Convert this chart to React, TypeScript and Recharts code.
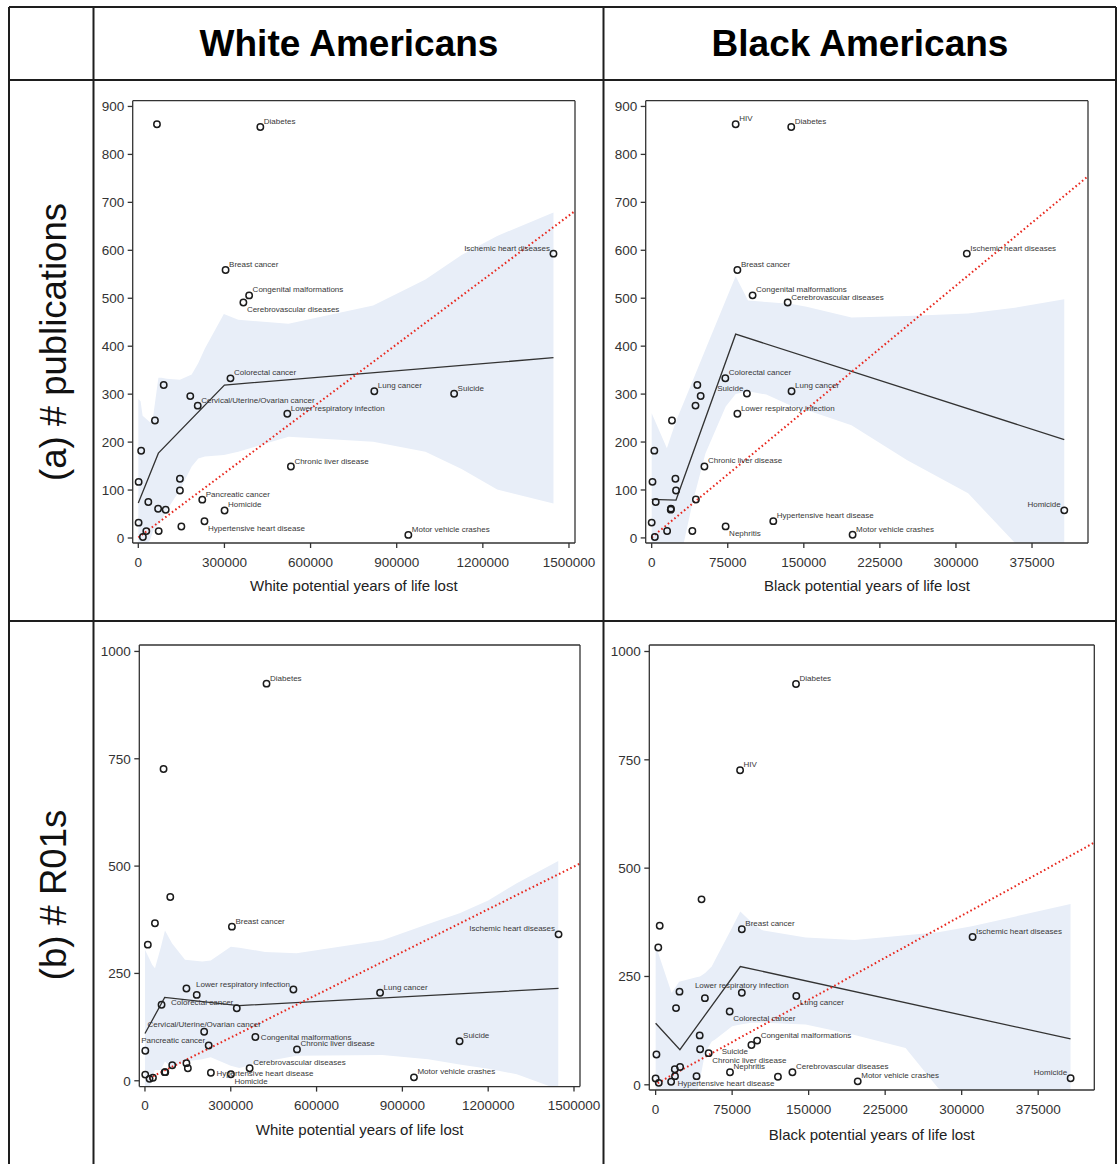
import React from 'react';
import { ComposedChart, XAxis, YAxis, Scatter, Line, Area, ReferenceLine } from 'recharts';

// ---------------- DATA ----------------
const causes = [
  'HIV', 'Diabetes', 'Ischemic heart diseases', 'Breast cancer', 'Congenital malformations',
  'Cerebrovascular diseases', 'Colorectal cancer', 'Cause A', 'Cause B', 'Suicide',
  'Lung cancer', 'Cervical/Uterine/Ovarian cancer', 'Lower respiratory infection', 'Cause C', 'Cause D',
  'Chronic liver disease', 'Cause E', 'Cause F', 'Cause G', 'Pancreatic cancer',
  'Cause H', 'Cause I', 'Cause J', 'Homicide', 'Cause K',
  'Hypertensive heart disease', 'Nephritis', 'Cause L', 'Cause M', 'Cause N',
  'Motor vehicle crashes',
];
const whiteYPLL = [
  65000, 425000, 1446000, 304000, 386000,
  366000, 321000, 88500, 181000, 1100000,
  822000, 207000, 519000, 58000, 10000,
  531500, 1200, 145000, 145000, 222800,
  34900, 69000, 95400, 300500, 1000,
  230500, 150000, 27900, 71000, 16000,
  940500,
];
const blackYPLL = [
  82800, 137600, 310700, 84500, 99500,
  134100, 72600, 45000, 48300, 93900,
  137900, 43200, 84500, 20000, 2600,
  52000, 800, 23400, 24000, 43600,
  4000, 19000, 18800, 406800, 0,
  119900, 72900, 15200, 40100, 3100,
  198100,
];
const publications = [
  863, 857, 593, 559, 506,
  491, 333, 319, 296, 301,
  306, 276, 259, 245, 182,
  149, 117, 123.5, 99, 80,
  75, 61, 59, 57.5, 32,
  35, 24, 14.4, 14.4, 2,
  6.5,
];
const r01s = [
  726, 925, 341, 359, 102,
  29, 169, 428, 200, 92,
  205, 114, 212.5, 177, 317,
  73, 70, 215, 41, 82,
  367, 20, 36, 15, 14.4,
  18.5, 29, 7, 20, 4.5,
  8,
];

// spline fits (knots)
const whitePubsFit = [[0, 73], [70000, 177], [300000, 319], [1446000, 376]];
const blackPubsFit = [[0, 80.5], [24000, 79], [82800, 425], [406800, 205]];
const whiteR01Fit = [[0, 110], [69000, 194], [328000, 175], [1446000, 215]];
const blackR01Fit = [[0, 142], [23800, 81], [83000, 273], [406700, 106]];

// linear fits (end points)
const whitePubsTrend = [[0, 1], [1521000, 682]];
const blackPubsTrend = [[0, 1], [430000, 754]];
const whiteR01Trend = [[15000, 6], [1521000, 506]];
const blackR01Trend = [[2000, 4], [430000, 559]];

// confidence bands [x, lower, upper]
const whitePubsBand = [
  [0, -20, 290], [8000, -20, 285], [15000, -20, 255], [40000, -5, 242], [52000, 15, 255],
  [70000, 28, 334], [81000, 37, 334], [99000, 58, 332], [145000, 100, 330], [186000, 149, 341],
  [209000, 166, 365], [232000, 170, 395], [298000, 173, 467], [348000, 180, 455], [523000, 211, 447],
  [818000, 201, 485], [1000000, 180, 539], [1126000, 144, 590], [1250000, 101, 630], [1446000, 72, 679],
];
const blackPubsBand = [
  [0, -30, 260], [15000, -30, 187], [24000, -30, 244], [31500, -12, 282], [40000, 71, 326],
  [53000, 176, 393], [73000, 274, 496], [82800, 300, 546], [95000, 306, 495], [113000, 299, 492],
  [138000, 275, 488], [152700, 267, 482], [197000, 235, 460], [252000, 162, 463], [312000, 93, 468],
  [358000, -10, 480], [406800, -80, 498],
];
const whiteR01Band = [
  [0, -20, 305], [15000, -20, 285], [25000, 10, 270], [35000, 25, 262], [55000, 25, 310],
  [70000, 45, 350], [95000, 30, 320], [140000, 45, 282], [200000, 50, 278], [230000, 55, 280],
  [300000, 35, 312], [330000, 30, 310], [420000, 45, 300], [530000, 58, 297], [830000, 60, 327],
  [990000, 50, 365], [1100000, 38, 390], [1200000, 28, 420], [1300000, 15, 460], [1445000, -20, 512],
];
const blackR01Band = [
  [0, -30, 322], [15700, -30, 212], [23000, -30, 238], [40000, -30, 248], [43500, 12, 250],
  [48500, 74, 258], [55000, 100, 273], [58000, 104, 287], [75000, 135, 363], [83000, 139, 400],
  [94000, 143, 375], [104000, 143, 357], [147000, 139, 340], [195000, 115, 334], [245000, 85, 345],
  [277000, -8, 352], [310000, -40, 366], [406700, -80, 417],
];

const whiteTicks = [0, 300000, 600000, 900000, 1200000, 1500000];
const blackTicks = [0, 75000, 150000, 225000, 300000, 375000];
const pubTicks = [0, 100, 200, 300, 400, 500, 600, 700, 800, 900];
const r01Ticks = [0, 250, 500, 750, 1000];

const headers = ['White Americans', 'Black Americans'];
const rowTitles = ['(a) # publications', '(b) # R01s'];
const xTitles = ['White potential years of life lost', 'Black potential years of life lost'];

// label placement per panel (style)
type Pos = 'ne' | 'nw' | 'se' | 'sw' | 'e' | 'n';
const labelsP1: Record<string, Pos> = {
  'Diabetes': 'ne', 'Ischemic heart diseases': 'nw', 'Breast cancer': 'ne', 'Congenital malformations': 'ne',
  'Cerebrovascular diseases': 'se', 'Colorectal cancer': 'ne', 'Lung cancer': 'ne', 'Suicide': 'ne',
  'Cervical/Uterine/Ovarian cancer': 'ne', 'Lower respiratory infection': 'ne', 'Chronic liver disease': 'ne',
  'Pancreatic cancer': 'ne', 'Homicide': 'ne', 'Hypertensive heart disease': 'se', 'Motor vehicle crashes': 'ne',
};
const labelsP2: Record<string, Pos> = {
  'HIV': 'ne', 'Diabetes': 'ne', 'Ischemic heart diseases': 'ne', 'Breast cancer': 'ne', 'Congenital malformations': 'ne',
  'Cerebrovascular diseases': 'ne', 'Colorectal cancer': 'ne', 'Suicide': 'nw', 'Lung cancer': 'ne',
  'Lower respiratory infection': 'ne', 'Chronic liver disease': 'ne', 'Hypertensive heart disease': 'ne',
  'Nephritis': 'se', 'Motor vehicle crashes': 'ne', 'Homicide': 'nw',
};
const labelsP3: Record<string, Pos> = {
  'Diabetes': 'ne', 'Breast cancer': 'ne', 'Ischemic heart diseases': 'nw', 'Lower respiratory infection': 'nw',
  'Lung cancer': 'ne', 'Colorectal cancer': 'nw', 'Cervical/Uterine/Ovarian cancer': 'n', 'Congenital malformations': 'e',
  'Suicide': 'ne', 'Pancreatic cancer': 'nw', 'Chronic liver disease': 'ne', 'Cerebrovascular diseases': 'ne',
  'Hypertensive heart disease': 'e', 'Homicide': 'se', 'Motor vehicle crashes': 'ne',
};
const labelsP4: Record<string, Pos> = {
  'Diabetes': 'ne', 'HIV': 'ne', 'Breast cancer': 'ne', 'Ischemic heart diseases': 'ne', 'Lower respiratory infection': 'n',
  'Lung cancer': 'se', 'Colorectal cancer': 'se', 'Congenital malformations': 'ne', 'Suicide': 'sw',
  'Chronic liver disease': 'se', 'Nephritis': 'ne', 'Cerebrovascular diseases': 'ne', 'Hypertensive heart disease': 'sw',
  'Motor vehicle crashes': 'ne', 'Homicide': 'nw',
};

// ---------------- HELPERS ----------------
const FONT = '"Liberation Sans", Arial, Helvetica, sans-serif';
const INK = '#2a2a2a';

const toPoints = (xs: number[], ys: number[]) => causes.map((name, i) => ({ x: xs[i], y: ys[i], name }));
const toLine = (pairs: number[][]) => pairs.map(([x, y]) => ({ x, y }));
const toBand = (rows: number[][]) => rows.map(([x, lo, hi]) => ({ x, band: [lo, hi] }));

const makeShape = (labels: Record<string, Pos>) => (props: any) => {
  const { cx, cy, payload } = props;
  if (cx == null || cy == null) return <g />;
  const pos = labels[payload.name];
  let text = null;
  if (pos) {
    let x = cx + 3.5, y = cy - 3, anchor: 'start' | 'end' | 'middle' = 'start';
    if (pos === 'nw') { x = cx - 3.5; anchor = 'end'; }
    if (pos === 'se') { y = cy + 9.5; }
    if (pos === 'sw') { x = cx - 3.5; y = cy + 9.5; anchor = 'end'; }
    if (pos === 'e') { x = cx + 5.5; y = cy + 3; }
    if (pos === 'n') { x = cx; y = cy - 4.5; anchor = 'middle'; }
    text = (
      <text x={x} y={y} textAnchor={anchor} fontSize={8} fontFamily={FONT} fill="#383838">
        {payload.name}
      </text>
    );
  }
  return (
    <g>
      <circle cx={cx} cy={cy} r={3.2} fill="none" stroke="#1c1c1c" strokeWidth={1.5} />
      {text}
    </g>
  );
};

type PanelProps = {
  left: number; top: number; width: number; height: number;
  margin: { top: number; right: number; bottom: number; left: number };
  yAxisWidth: number; xAxisHeight: number;
  xDomain: [number, number]; yDomain: [number, number];
  xTicks: number[]; yTicks: number[]; xTitle: string;
  points: any[]; fit: any[]; trend: any[]; band: any[];
  labels: Record<string, Pos>;
};

function Panel(p: PanelProps) {
  const tickStyle = { fontSize: 13.5, fill: '#333', fontFamily: FONT };
  return (
    <div style={{ position: 'absolute', left: p.left, top: p.top, width: p.width, height: p.height }}>
      <ComposedChart width={p.width} height={p.height} margin={p.margin}>
        <XAxis
          type="number" dataKey="x" domain={p.xDomain} ticks={p.xTicks} allowDataOverflow interval={0}
          height={p.xAxisHeight} tickSize={5} tickMargin={9} stroke="#333" strokeWidth={1.3}
          tick={tickStyle}
          label={{ value: p.xTitle, position: 'insideBottom', offset: 0, fontSize: 15, fill: '#222', fontFamily: FONT }}
        />
        <YAxis
          type="number" domain={p.yDomain} ticks={p.yTicks} allowDataOverflow interval={0}
          width={p.yAxisWidth} tickSize={5} tickMargin={3.5} stroke="#333" strokeWidth={1.3}
          tick={tickStyle}
        />
        <Area
          data={p.band} dataKey="band" type="linear" stroke="none" fill="#e8eef8" fillOpacity={1}
          isAnimationActive={false} activeDot={false} dot={false}
        />
        <Scatter data={p.points} dataKey="y" shape={makeShape(p.labels)} isAnimationActive={false} />
        <Line
          data={p.fit} dataKey="y" type="linear" stroke="#333" strokeWidth={1.3} dot={false}
          activeDot={false} isAnimationActive={false}
        />
        <Line
          data={p.trend} dataKey="y" type="linear" stroke="#e8271d" strokeWidth={2} strokeDasharray="1.6 2.6"
          dot={false} activeDot={false} isAnimationActive={false}
        />
        <ReferenceLine y={p.yDomain[1]} stroke="#333" strokeWidth={1.3} ifOverflow="visible" />
        <ReferenceLine x={p.xDomain[1]} stroke="#333" strokeWidth={1.3} ifOverflow="visible" />
      </ComposedChart>
    </div>
  );
}

export default function App() {
  const W = 1118, H = 1164;
  const lineColor = '#1e1e1e';
  return (
    <div style={{ position: 'absolute', left: 0, top: 0, width: W, height: H, background: '#fff', overflow: 'hidden', fontFamily: FONT }}>
      <svg width={W} height={H} style={{ position: 'absolute', left: 0, top: 0 }}>
        <line x1={9} y1={7} x2={1116} y2={7} stroke={lineColor} strokeWidth={2} />
        <line x1={9} y1={80} x2={1116} y2={80} stroke={lineColor} strokeWidth={2} />
        <line x1={9} y1={621} x2={1116} y2={621} stroke={lineColor} strokeWidth={2} />
        <line x1={9} y1={7} x2={9} y2={H} stroke={lineColor} strokeWidth={2} />
        <line x1={93.5} y1={7} x2={93.5} y2={H} stroke={lineColor} strokeWidth={2} />
        <line x1={603.5} y1={7} x2={603.5} y2={H} stroke={lineColor} strokeWidth={2} />
        <line x1={1116} y1={7} x2={1116} y2={H} stroke={lineColor} strokeWidth={2} />
        <text x={349} y={56} textAnchor="middle" fontSize={37} fontWeight="bold" fontFamily={FONT} fill="#000">{headers[0]}</text>
        <text x={860} y={56} textAnchor="middle" fontSize={37} fontWeight="bold" fontFamily={FONT} fill="#000">{headers[1]}</text>
        <text x={65.5} y={342} textAnchor="middle" fontSize={36.5} fontFamily={FONT} fill="#111" transform="rotate(-90 65.5 342)">{rowTitles[0]}</text>
        <text x={65.5} y={895} textAnchor="middle" fontSize={36.5} fontFamily={FONT} fill="#111" transform="rotate(-90 65.5 895)">{rowTitles[1]}</text>
      </svg>

      <Panel
        left={95} top={80} width={509} height={540}
        margin={{ top: 20.7, right: 29, bottom: 29, left: 0 }} yAxisWidth={37.7} xAxisHeight={48}
        xDomain={[-19500, 1521000]} yDomain={[-10.4, 912]} xTicks={whiteTicks} yTicks={pubTicks}
        xTitle={xTitles[0]} points={toPoints(whiteYPLL, publications)} fit={toLine(whitePubsFit)}
        trend={toLine(whitePubsTrend)} band={toBand(whitePubsBand)} labels={labelsP1}
      />
      <Panel
        left={604} top={80} width={513} height={540}
        margin={{ top: 20.7, right: 29, bottom: 29, left: 0 }} yAxisWidth={41.7} xAxisHeight={48}
        xDomain={[-5900, 430200]} yDomain={[-10.6, 912]} xTicks={blackTicks} yTicks={pubTicks}
        xTitle={xTitles[1]} points={toPoints(blackYPLL, publications)} fit={toLine(blackPubsFit)}
        trend={toLine(blackPubsTrend)} band={toBand(blackPubsBand)} labels={labelsP2}
      />
      <Panel
        left={95} top={621} width={509} height={543}
        margin={{ top: 24, right: 24, bottom: 29.4, left: 0 }} yAxisWidth={44.3} xAxisHeight={48}
        xDomain={[-19800, 1521000]} yDomain={[-13.6, 1015]} xTicks={whiteTicks} yTicks={r01Ticks}
        xTitle={xTitles[0]} points={toPoints(whiteYPLL, r01s)} fit={toLine(whiteR01Fit)}
        trend={toLine(whiteR01Trend)} band={toBand(whiteR01Band)} labels={labelsP3}
      />
      <Panel
        left={604} top={621} width={513} height={543}
        margin={{ top: 24, right: 22.7, bottom: 24, left: 0 }} yAxisWidth={45.3} xAxisHeight={50}
        xDomain={[-6200, 430000]} yDomain={[-12, 1015]} xTicks={blackTicks} yTicks={r01Ticks}
        xTitle={xTitles[1]} points={toPoints(blackYPLL, r01s)} fit={toLine(blackR01Fit)}
        trend={toLine(blackR01Trend)} band={toBand(blackR01Band)} labels={labelsP4}
      />
    </div>
  );
}
